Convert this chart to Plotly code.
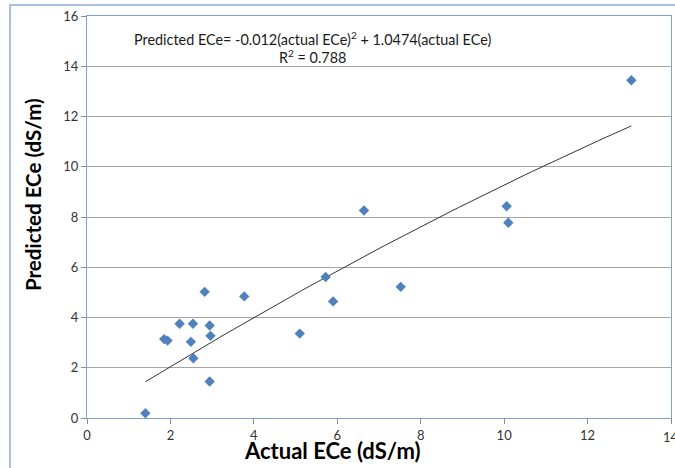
import numpy as np
import plotly.graph_objects as go

# Data
actual_ece = [1.40, 1.85, 1.93, 2.22, 2.54, 2.49, 2.55, 2.82, 2.94, 2.96, 2.94, 3.77,
              5.10, 5.72, 5.90, 6.64, 7.52, 10.06, 10.10, 13.05]
predicted_ece = [0.19, 3.14, 3.08, 3.75, 3.75, 3.03, 2.38, 5.02, 3.68, 3.27, 1.45, 4.84,
                 3.36, 5.61, 4.64, 8.26, 5.22, 8.43, 7.77, 13.44]

# Displayed trendline equation: y = a*x^2 + b*x
coef_a = -0.012
coef_b = 1.0474
r2_text = "R<sup>2</sup> = 0.788"
eq_text = "Predicted ECe= -0.012(actual ECe)<sup>2</sup> + 1.0474(actual ECe)"

x_ticks = [0, 2, 4, 6, 8, 10, 12, 14]
y_ticks = [0, 2, 4, 6, 8, 10, 12, 14, 16]

trend_x = np.linspace(min(actual_ece), max(actual_ece), 60)
trend_y = coef_a * trend_x ** 2 + coef_b * trend_x

FONT = "Lato"
BLUE_LINE = "#7f9fcf"

L, R, T, B = 87, 4, 16, 50
W, H = 675, 468
PW, PH = W - L - R, H - T - B


def px(xp):
    return (xp - L) / PW


def py(yp):
    return (H - B - yp) / PH


fig = go.Figure()
fig.add_trace(go.Scatter(
    x=trend_x, y=trend_y, mode="lines",
    line=dict(color="#333333", width=1), showlegend=False, hoverinfo="skip"))
fig.add_trace(go.Scatter(
    x=actual_ece, y=predicted_ece, mode="markers",
    marker=dict(symbol="diamond", size=8, color="#4f81bd"),
    showlegend=False))

fig.update_layout(
    width=W, height=H, autosize=False,
    margin=dict(l=L, r=R, t=T, b=B),
    paper_bgcolor="white", plot_bgcolor="white",
    font=dict(family=FONT, size=13, color="#333333"),
    xaxis=dict(range=[0, 14], tickvals=x_ticks, showgrid=False, zeroline=False,
               showline=True, mirror=True, linecolor=BLUE_LINE, linewidth=1,
               ticks="outside", ticklen=5, tickcolor="#8c8c8c",
               tickfont=dict(size=13, color="#333333")),
    yaxis=dict(range=[0, 16], tickvals=y_ticks, showgrid=True, gridcolor="#a6a6a6",
               gridwidth=1, zeroline=False,
               showline=True, mirror=True, linecolor=BLUE_LINE, linewidth=1,
               ticks="outside", ticklen=5, tickcolor="#8c8c8c",
               tickfont=dict(size=13, color="#333333")),
    annotations=[
        dict(text=eq_text, x=px(312), y=py(38.5), xref="paper", yref="paper", showarrow=False,
             xanchor="center", yanchor="middle",
             font=dict(family=FONT, size=14.4, color="#1a1a1a")),
        dict(text=r2_text, x=px(312), y=py(56.5), xref="paper", yref="paper", showarrow=False,
             xanchor="center", yanchor="middle",
             font=dict(family=FONT, size=14.4, color="#1a1a1a")),
        dict(text="<b>Actual ECe (dS/m)</b>", x=px(332.5), y=py(451), xref="paper", yref="paper",
             xanchor="center", yanchor="middle",
             showarrow=False, font=dict(family=FONT, size=22, color="#000000")),
        dict(text="<b>Predicted ECe (dS/m)</b>", x=px(33), y=py(195), xref="paper", yref="paper",
             xanchor="center", yanchor="middle",
             showarrow=False, textangle=-90, font=dict(family=FONT, size=20.5, color="#000000")),
        dict(text="14", x=1.0, y=py(437), xref="paper", yref="paper",
             xanchor="center", yanchor="middle", showarrow=False,
             font=dict(family=FONT, size=13, color="#333333")),
    ],
    shapes=[
        dict(type="rect", xref="paper", yref="paper", x0=px(10), x1=px(690),
             y0=py(490), y1=py(5), line=dict(color="#8eaadb", width=1.5)),
    ],
)

fig.write_html("out.html", config={"displayModeBar": False},
               post_script="document.body.style.margin='0px';")
